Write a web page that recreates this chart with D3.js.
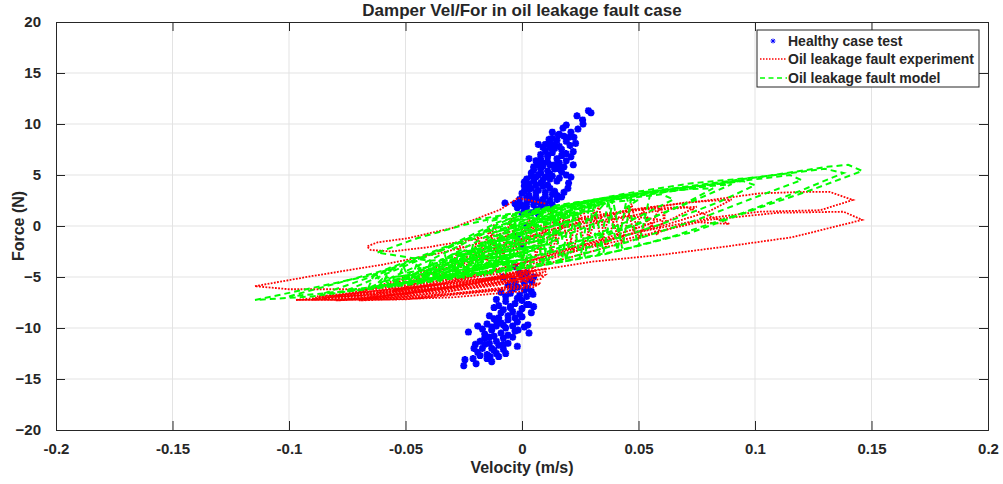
<!DOCTYPE html>
<html>
<head>
<meta charset="utf-8">
<script src="https://cdn.jsdelivr.net/npm/d3@7"></script>
<style>
  body { margin: 0; background: #fff; }
  text { font-family: "Liberation Sans", Arial, sans-serif; font-weight: bold; fill: #262626; }
</style>
</head>
<body>
<svg id="chart" width="1003" height="484"></svg>
<script>
// ---- data (velocity m/s, force N) ----
const xTicks = [-0.2, -0.15, -0.1, -0.05, 0, 0.05, 0.1, 0.15, 0.2];
const xTickLabels = ["-0.2", "-0.15", "-0.1", "-0.05", "0", "0.05", "0.1", "0.15", "0.2"];
const yTicks = [-20, -15, -10, -5, 0, 5, 10, 15, 20];
const legendLabels = ["Healthy case test", "Oil leakage fault experiment", "Oil leakage fault model"];

// healthy case: scatter of points
const healthyUpper = [
  [0.0285,11.3],[0.0296,11.1],[0.0236,10.8],[0.0262,10.0],[0.0176,9.6],[0.0155,8.9],[0.020,8.7],[0.0223,8.7],
  [0.0116,8.5],[0.0206,7.9],[0.009,7.7],[0.0189,7.1],[0.015,4.4],[0.0197,3.7],[0.017,2.85],[0.014,3.4],[-0.0073,2.25],
  [0.012,8.2],[0.014,8.0],[0.016,7.8],[0.010,7.4],[0.013,7.2],[0.017,7.5],[0.008,7.0],[0.011,6.8],[0.015,6.6],
  [0.006,6.4],[0.009,6.2],[0.012,6.0],[0.016,6.2],[0.005,5.8],[0.008,5.6],[0.011,5.4],[0.014,5.6],[0.004,5.2],
  [0.007,5.0],[0.010,4.8],[0.013,4.9],[0.002,4.6],[0.005,4.4],[0.008,4.2],[0.011,4.0],[0.001,3.9],[0.004,3.7],
  [0.007,3.5],[0.010,3.3],[0.0,3.2],[0.003,3.0],[0.006,2.8],[0.009,2.6],[0.012,2.5],[-0.001,2.6],[0.002,2.3],
  [0.005,2.1],[0.008,1.9],[0.011,1.8],[-0.002,1.8],[0.001,1.5],[0.004,1.3],[0.007,1.2],[0.018,5.8],[0.019,5.0],
  [0.020,4.2],[0.015,3.0],[0.021,6.8],[0.018,8.8],[0.013,9.2],[0.024,9.5],[0.022,6.0],[0.003,6.6],[0.007,8.0],
  [0.019,9.9],[0.017,5.3],[0.012,3.7],[0.006,4.8],[0.009,5.9],[0.002,1.9],[0.013,2.1],[-0.003,2.2],[0.016,4.7],
  [0.003,4.1],[0.006,3.3],[0.009,4.5],[0.012,5.1],[0.004,2.6],[0.007,2.4],[0.010,2.9],[0.013,3.1],[0.001,3.4],
  [0.0,2.0],[0.005,5.5],[0.008,6.6],[0.011,7.0],[0.014,7.6],[0.010,8.0],[0.013,8.6],[0.016,9.0],[0.019,8.3],
  [0.022,7.3],[0.017,6.9],[0.014,6.0],[0.011,6.3],[0.008,5.2],[0.006,4.0],[0.003,3.6],[0.012,4.6],[0.016,5.6],
  [0.009,3.9],[0.002,2.8],[-0.001,2.1],[0.006,1.6],[0.010,2.2],[0.015,2.6],[0.018,3.3],[0.021,4.8],[0.019,6.4],
  [0.023,8.1],[0.021,9.2],[0.026,10.4],[0.015,8.4],[0.012,7.7],[0.007,6.0],[0.004,4.9],[0.001,4.3],[0.0,1.2]
];
const healthyLower = [
  [0.0042,-5.5],[0.0047,-6.7],[0.0022,-6.1],[0.003,-7.7],[0.0025,-9.7],[-0.0017,-10.2],[-0.023,-10.4],[-0.019,-9.8],
  [-0.0245,-13.1],[-0.025,-13.7],[-0.0197,-13.5],[-0.0137,-12.8],[-0.0206,-12.0],[-0.019,-12.4],[0.0,-8.9],
  [-0.008,-5.0],[-0.004,-5.2],[0.0,-5.0],[0.002,-4.6],[-0.006,-5.8],[-0.002,-6.0],[0.001,-5.6],[-0.009,-6.5],
  [-0.005,-6.6],[-0.001,-6.8],[0.002,-6.9],[-0.011,-7.2],[-0.007,-7.4],[-0.003,-7.6],[0.0,-7.3],[-0.012,-8.0],
  [-0.008,-8.2],[-0.004,-8.4],[0.0,-8.1],[-0.014,-8.8],[-0.010,-9.0],[-0.006,-9.2],[-0.002,-9.4],[-0.015,-9.6],
  [-0.011,-9.8],[-0.007,-10.0],[-0.003,-10.3],[-0.016,-10.6],[-0.012,-10.8],[-0.008,-11.0],[-0.004,-10.9],
  [-0.018,-11.3],[-0.014,-11.5],[-0.010,-11.7],[-0.006,-11.5],[-0.017,-12.0],[-0.012,-12.2],[-0.008,-12.1],
  [-0.015,-12.6],[-0.010,-12.8],[0.004,-8.5],[0.003,-10.5],[-0.002,-11.8],[0.005,-7.9],[-0.013,-10.2],
  [-0.009,-9.5],[-0.005,-7.9],[-0.016,-11.0],[-0.003,-4.0],[0.0,-2.0],[0.002,0.0],[-0.002,-1.0],
  [-0.001,-4.6],[0.003,-5.2],[-0.003,-5.6],[0.001,-6.3],[-0.004,-6.2],[-0.007,-6.9],[-0.002,-7.1],[0.002,-7.7],
  [-0.005,-8.0],[-0.009,-8.5],[-0.001,-8.6],[-0.006,-8.8],[-0.011,-9.3],[-0.003,-9.0],[-0.008,-9.7],[-0.013,-9.9],
  [-0.004,-9.8],[-0.009,-10.5],[-0.014,-10.9],[-0.006,-10.7],[-0.011,-11.3],[-0.016,-11.6],[-0.008,-11.6],
  [-0.013,-12.0],[-0.018,-12.7],[-0.011,-12.5],[-0.015,-13.0],[-0.020,-11.6],[-0.021,-13.0],[0.001,-9.9],
  [0.004,-6.4],[0.005,-5.0],[-0.010,-7.8],[-0.012,-9.1],[-0.017,-10.1],[-0.007,-12.5],[-0.013,-13.3]
];

// oil leakage experiment: hysteresis loops (dotted red)
const expOuterA = [[-0.1146,-5.9],[-0.09,-4.9],[-0.06,-3.8],[-0.035,-2.65],[-0.01,-1.2],[0.02,0.4],[0.05,1.7],[0.081,2.55],
  [0.102,3.2],[0.122,3.35],[0.132,3.35],[0.142,2.55],[0.128,1.55],[0.102,1.4],[0.081,0.8],[0.05,-0.6],[0.02,-2.2],
  [-0.01,-3.8],[-0.04,-5.2],[-0.07,-6.2],[-0.1,-6.2],[-0.1146,-5.9]];
const expOuterB = [[-0.097,-7.25],[-0.07,-6.6],[-0.04,-5.6],[-0.01,-4.2],[0.02,-2.6],[0.05,-1.0],[0.08,0.6],[0.11,1.3],
  [0.138,1.4],[0.146,0.6],[0.116,-1.1],[0.088,-2.0],[0.059,-2.85],[0.03,-3.5],[0.005,-4.4],[-0.03,-5.9],[-0.06,-6.9],
  [-0.08,-7.25],[-0.097,-7.25]];
const expLeftLoop = [[0.01,2.2],[-0.0017,2.75],[-0.0094,1.6],[-0.03,-0.2],[-0.049,-1.2],[-0.062,-1.6],[-0.0665,-2.0],
  [-0.065,-2.35],[-0.056,-2.5],[-0.041,-2.1],[-0.02,-1.3],[0.0,-0.3],[0.03,1.0],[0.06,2.0]];
const expMid1 = [[-0.075,-6.9],[-0.05,-5.0],[-0.02,-2.8],[0.01,-0.5],[0.04,1.2],[0.07,2.3],[0.09,2.6],[0.08,1.4],[0.06,0.0],
  [0.03,-1.8],[0.0,-3.6],[-0.03,-5.3],[-0.06,-6.6],[-0.075,-6.9]];
const expMid2 = [[-0.065,-6.8],[-0.04,-4.8],[-0.015,-2.5],[0.015,-0.2],[0.045,1.5],[0.07,1.9],[0.089,0.2],[0.073,0.4],
  [0.05,-1.2],[0.025,-2.8],[0.0,-4.4],[-0.03,-5.9],[-0.065,-6.8]];
const expMid3 = [[-0.055,-6.4],[-0.03,-4.4],[-0.005,-2.0],[0.02,0.0],[0.045,1.0],[0.06,0.6],[0.04,-0.9],[0.015,-2.6],
  [-0.01,-4.3],[-0.035,-5.7],[-0.055,-6.4]];
const expMid4 = [[-0.085,-7.1],[-0.06,-5.9],[-0.03,-4.0],[0.0,-1.9],[0.03,0.2],[0.06,1.6],[0.075,1.9],[0.06,0.2],
  [0.035,-1.6],[0.01,-3.4],[-0.02,-5.0],[-0.05,-6.4],[-0.085,-7.1]];
// lower red band, traced back and forth
const expBand = [[-0.097,-7.25],[-0.05,-7.2],[0.005,-6.0],[0.008,-5.6],[-0.04,-6.9],[-0.09,-7.2],[-0.085,-7.0],
  [-0.04,-6.5],[0.008,-5.2],[0.01,-4.8],[-0.03,-6.0],[-0.08,-6.9],[-0.075,-6.7],[-0.03,-5.6],[0.01,-4.5],[0.01,-4.2],
  [-0.03,-5.2],[-0.07,-6.4],[-0.065,-6.1],[-0.03,-4.9],[0.005,-4.0],[0.0,-6.4],[-0.03,-7.0],[-0.07,-7.3],[-0.06,-7.1],
  [-0.02,-6.5],[0.006,-5.8],[0.004,-5.0],[-0.02,-5.9],[-0.06,-6.8]];
const expBand2 = [[-0.09,-7.2],[-0.05,-6.7],[0.0,-4.9],[-0.05,-6.1],[-0.088,-6.9],[-0.05,-6.4],[0.004,-4.6],[-0.04,-6.4],
  [-0.07,-7.15],[-0.03,-6.1],[0.006,-4.4],[-0.03,-5.6],[-0.062,-6.5],[-0.02,-5.5],[0.002,-4.3],[-0.025,-5.9],
  [-0.066,-7.0],[-0.035,-6.6],[0.008,-4.8],[-0.02,-5.2],[-0.055,-6.2],[-0.015,-5.7],[0.004,-5.1],[-0.01,-6.2],
  [-0.045,-7.0],[-0.08,-7.3],[-0.05,-6.9],[-0.01,-5.8],[0.009,-4.6]];
const expHatch = [[-0.018,-3.2],[-0.014,-0.4],[-0.01,-3.4],[-0.005,0.6],[-0.002,-2.6],[0.003,0.8],[0.006,-3.0],[0.01,0.5],
  [0.013,-2.6],[0.017,1.2],[0.02,-2.2],[0.024,0.9],[0.027,-1.8],[0.031,1.6],[0.034,-1.4],[0.038,1.3],[0.041,-1.0],
  [0.045,1.9],[0.048,-0.6],[0.052,1.6],[0.055,-0.2],[0.059,1.8],[0.062,0.4]];
const expHatch2 = [[-0.03,-3.8],[-0.026,-1.6],[-0.022,-4.0],[-0.019,-1.0],[-0.015,-3.6],[-0.012,0.2],[-0.008,-3.0],
  [-0.004,1.2],[0.0,-3.3],[0.004,0.3],[0.008,-2.4],[0.012,1.7],[0.015,-1.8],[0.019,1.5],[0.022,-2.6],[0.026,1.9],
  [0.029,-1.1],[0.033,2.0],[0.036,-2.2],[0.04,1.0],[0.043,-1.6],[0.047,2.2],[0.05,-1.2],[0.054,0.8],[0.058,-0.9],[0.062,1.5]];
const expLoops = [expOuterA, expOuterB, expLeftLoop, expMid1, expMid2, expMid3, expMid4, expBand, expBand2, expHatch, expHatch2];

// oil leakage model: hysteresis loops (dashed green)
const modelG1 = [[-0.1146,-7.25],[-0.107,-6.9],[-0.064,-4.8],[-0.03,-2.0],[-0.0064,0.6],[0.02,2.1],[0.045,3.2],[0.073,4.2],
  [0.102,4.8],[0.131,5.8],[0.14,6.0],[0.146,5.4],[0.125,3.6],[0.102,1.8],[0.073,-0.6],[0.042,-2.4],[0.01,-3.8],
  [-0.03,-5.0],[-0.065,-6.1],[-0.09,-6.9],[-0.1146,-7.25]];
const modelG2 = [[-0.1,-6.9],[-0.06,-4.4],[-0.03,-1.8],[-0.01,0.4],[0.015,2.0],[0.045,3.1],[0.075,4.0],[0.105,4.9],
  [0.13,5.6],[0.138,5.2],[0.12,3.5],[0.095,1.3],[0.065,-1.0],[0.035,-2.8],[0.0,-4.2],[-0.035,-5.3],[-0.07,-6.3],[-0.1,-6.9]];
const modelG3 = [[-0.085,-6.6],[-0.055,-4.2],[-0.025,-1.4],[0.0,0.9],[0.03,2.5],[0.06,3.5],[0.09,4.3],[0.115,5.0],
  [0.12,4.5],[0.1,2.8],[0.075,0.6],[0.045,-1.6],[0.015,-3.4],[-0.02,-4.8],[-0.05,-5.8],[-0.085,-6.6]];
const modelG4 = [[-0.075,-6.3],[-0.05,-3.9],[-0.02,-1.0],[0.005,1.3],[0.035,2.7],[0.065,3.6],[0.095,4.4],[0.1,4.0],
  [0.085,2.4],[0.06,0.2],[0.03,-2.0],[0.0,-3.8],[-0.03,-5.0],[-0.075,-6.3]];
const modelG5 = [[-0.065,-6.0],[-0.04,-3.4],[-0.015,-0.6],[0.01,1.6],[0.04,2.8],[0.07,3.6],[0.082,3.7],[0.07,2.2],
  [0.05,0.2],[0.025,-1.8],[-0.005,-3.7],[-0.035,-5.0],[-0.065,-6.0]];
const modelG6 = [[-0.055,-5.7],[-0.035,-3.4],[-0.01,-0.4],[0.015,1.7],[0.04,2.6],[0.06,3.1],[0.065,2.6],[0.05,0.9],
  [0.03,-1.0],[0.005,-3.0],[-0.025,-4.6],[-0.055,-5.7]];
const modelG7 = [[-0.045,-5.4],[-0.025,-2.9],[-0.005,-0.2],[0.02,1.8],[0.04,2.4],[0.05,2.6],[0.04,1.1],[0.02,-0.8],
  [0.0,-2.8],[-0.02,-4.3],[-0.045,-5.4]];
const modelG8 = [[-0.035,-5.0],[-0.02,-2.8],[0.0,-0.2],[0.02,1.5],[0.035,2.1],[0.03,0.8],[0.015,-1.0],[-0.005,-3.0],[-0.035,-5.0]];
const modelG9 = [[-0.025,-4.7],[-0.01,-2.2],[0.005,0.2],[0.02,1.4],[0.025,1.2],[0.015,-0.6],[0.0,-2.6],[-0.025,-4.7]];
const modelG10 = [[-0.062,-2.6],[-0.045,-1.2],[-0.025,0.1],[-0.005,1.1],[0.02,2.1],[0.05,3.0],[0.08,3.9],[0.09,4.1],
  [0.075,2.6],[0.05,0.3],[0.02,-1.8],[-0.01,-3.0],[-0.04,-3.4],[-0.062,-2.6]];
const modelCore = [[-0.062,-6.0],[-0.058,-5.0],[-0.052,-5.8],[-0.048,-4.6],[-0.042,-5.5],[-0.038,-4.0],[-0.032,-5.2],
  [-0.028,-3.4],[-0.022,-4.9],[-0.018,-2.4],[-0.013,-4.6],[-0.009,-1.0],[-0.005,-4.4],[-0.001,0.4],[0.003,-4.1],
  [0.007,1.2],[0.011,-3.8],[0.015,1.6],[0.019,-3.4],[0.023,2.0],[0.027,-3.0],[0.031,2.3],[0.035,-2.6],[0.039,2.6],
  [0.043,-2.2],[0.047,2.9]];
const modelCore2 = [[-0.065,-6.2],[-0.06,-5.2],[-0.055,-6.0],[-0.05,-4.9],[-0.045,-5.7],[-0.04,-4.3],[-0.035,-5.4],
  [-0.03,-3.7],[-0.025,-5.1],[-0.02,-2.9],[-0.016,-4.8],[-0.011,-1.8],[-0.007,-4.5],[-0.003,-0.4],[0.001,-4.2],
  [0.005,0.9],[0.009,-3.9],[0.013,1.4],[0.017,-3.6],[0.021,1.9],[0.025,-3.2],[0.029,2.2],[0.033,-2.8],[0.037,2.5],
  [0.041,-2.4],[0.045,2.8],[0.05,-2.0],[0.055,3.1]];
const modelCore3 = [[-0.06,-5.9],[-0.02,-4.6],[-0.06,-5.4],[-0.01,-3.9],[-0.055,-5.0],[0.0,-3.3],[-0.05,-4.6],[0.0,-2.6],
  [-0.045,-4.2],[0.005,-2.0],[-0.04,-3.8],[0.01,-1.3],[-0.035,-3.3],[0.015,-0.5],[-0.03,-2.8],[0.02,0.4],[-0.02,-2.0],
  [0.025,1.2],[-0.015,-1.2],[0.03,1.8],[-0.01,-0.4],[0.035,2.4]];
const modelCore4 = [[-0.066,-6.1],[-0.063,-4.5],[-0.06,-5.9],[-0.057,-4.2],[-0.054,-5.7],[-0.051,-3.9],[-0.048,-5.5],
  [-0.045,-3.6],[-0.042,-5.3],[-0.039,-3.3],[-0.036,-5.1],[-0.033,-2.9],[-0.03,-4.9],[-0.027,-2.4],[-0.024,-4.8],
  [-0.021,-1.8],[-0.018,-4.6],[-0.015,-1.0],[-0.012,-4.5],[-0.009,-0.2],[-0.006,-4.4],[-0.003,0.6],[0.0,-4.3],[0.003,1.2]];
const modelCore5 = [[-0.058,-5.8],[-0.015,-4.5],[-0.05,-5.1],[-0.005,-3.6],[-0.042,-4.4],[0.004,-2.8],[-0.034,-3.6],
  [0.012,-1.8],[-0.026,-2.8],[0.018,-0.6],[-0.018,-1.7],[0.024,0.6],[-0.012,-0.6],[0.03,1.5],[-0.006,0.4],[0.036,2.2],
  [0.0,1.0],[0.042,2.7]];
const modelEdge = [[-0.02,0.6],[0.0,1.4],[0.02,2.2],[0.045,3.0],[0.07,3.8],[0.095,4.5],[0.07,3.6],[0.045,2.8],[0.02,2.0],
  [0.0,1.2],[-0.015,0.4]];
const modelLoops = [modelG1, modelG2, modelG3, modelG4, modelG5, modelG6, modelG7, modelG8, modelG9, modelG10,
  modelCore, modelCore2, modelCore3, modelCore4, modelCore5, modelEdge];

// ---- layout ----
const W = 1003, H = 484;
const margin = { top: 22, right: 15, bottom: 54, left: 56 };
const width = W - margin.left - margin.right;
const height = H - margin.top - margin.bottom;
const axisColor = "#262626";

const svg = d3.select("#chart");
svg.append("rect").attr("width", W).attr("height", H).attr("fill", "#fff");

const g = svg.append("g").attr("transform", `translate(${margin.left},${margin.top})`);

const x = d3.scaleLinear().domain([-0.2, 0.2]).range([0, width]);
const y = d3.scaleLinear().domain([-20, 20]).range([height, 0]);

// grid
g.append("g").selectAll("line").data(xTicks.slice(1, -1)).enter().append("line")
  .attr("x1", d => x(d)).attr("x2", d => x(d)).attr("y1", 0).attr("y2", height)
  .attr("stroke", "#e3e3e3").attr("stroke-width", 1);
g.append("g").selectAll("line").data(yTicks.slice(1, -1)).enter().append("line")
  .attr("y1", d => y(d)).attr("y2", d => y(d)).attr("x1", 0).attr("x2", width)
  .attr("stroke", "#e3e3e3").attr("stroke-width", 1);

// clip
svg.append("defs").append("clipPath").attr("id", "plotclip")
  .append("rect").attr("width", width).attr("height", height);
const plot = g.append("g").attr("clip-path", "url(#plotclip)");

// healthy points, drawn as '*' markers
const star = "M-3.5,0L3.5,0M0,-3.5L0,3.5M-2.6,-2.6L2.6,2.6M-2.6,2.6L2.6,-2.6";
plot.append("g").selectAll("path").data(healthyUpper.concat(healthyLower)).enter().append("path")
  .attr("transform", d => `translate(${x(d[0])},${y(d[1])})`)
  .attr("d", star)
  .attr("fill", "none").attr("stroke", "#0000ff").attr("stroke-width", 2.2);

const line = d3.line().x(d => x(d[0])).y(d => y(d[1]));

plot.append("g").selectAll("path").data(expLoops).enter().append("path")
  .attr("d", line)
  .attr("fill", "none").attr("stroke", "#ff0000").attr("stroke-width", 1.8)
  .attr("stroke-dasharray", "1.8,1.4");

plot.append("g").selectAll("path").data(modelLoops).enter().append("path")
  .attr("d", line)
  .attr("fill", "none").attr("stroke", "#00ff00").attr("stroke-width", 2)
  .attr("stroke-dasharray", "6,4");

// axes with inward ticks on all four sides
const tickLen = 9;
const xAxis = g.append("g").attr("transform", `translate(0,${height})`)
  .call(d3.axisBottom(x).tickValues(xTicks).tickFormat((d, i) => xTickLabels[i]).tickSize(-tickLen).tickPadding(13));
const xAxisTop = g.append("g")
  .call(d3.axisTop(x).tickValues(xTicks).tickFormat("").tickSize(-tickLen));
const yAxis = g.append("g")
  .call(d3.axisLeft(y).tickValues(yTicks).tickSize(-tickLen).tickPadding(15));
const yAxisRight = g.append("g").attr("transform", `translate(${width},0)`)
  .call(d3.axisRight(y).tickValues(yTicks).tickFormat("").tickSize(-tickLen));

[xAxis, xAxisTop, yAxis, yAxisRight].forEach(a => {
  a.select(".domain").attr("stroke", axisColor).attr("stroke-width", 1);
  a.selectAll(".tick line").attr("stroke", axisColor).attr("stroke-width", 1);
  a.selectAll("text").attr("font-size", 15).attr("font-family", '"Liberation Sans", Arial, sans-serif')
    .attr("font-weight", "bold").attr("fill", axisColor);
});

// labels
svg.append("text").attr("x", margin.left + width / 2).attr("y", 16)
  .attr("text-anchor", "middle").attr("font-size", 17).text("Damper Vel/For in oil leakage fault case");
svg.append("text").attr("x", margin.left + width / 2).attr("y", 473)
  .attr("text-anchor", "middle").attr("font-size", 16).text("Velocity (m/s)");
svg.append("text").attr("transform", `translate(24,${margin.top + height / 2}) rotate(-90)`)
  .attr("text-anchor", "middle").attr("font-size", 16).text("Force (N)");

// legend
const lg = svg.append("g").attr("transform", "translate(757,30)");
lg.append("rect").attr("width", 222).attr("height", 57)
  .attr("fill", "#fff").attr("stroke", axisColor).attr("stroke-width", 1);
const rowY = [11, 29, 48];
lg.append("path").attr("d", star)
  .attr("fill", "none").attr("stroke", "#0000ff").attr("stroke-width", 1.4)
  .attr("transform", `translate(16,${rowY[0]}) scale(0.7)`);
lg.append("line").attr("x1", 3).attr("x2", 30).attr("y1", rowY[1]).attr("y2", rowY[1])
  .attr("stroke", "#ff0000").attr("stroke-width", 1.5).attr("stroke-dasharray", "1.5,1.5");
lg.append("line").attr("x1", 3).attr("x2", 30).attr("y1", rowY[2]).attr("y2", rowY[2])
  .attr("stroke", "#00ff00").attr("stroke-width", 1.5).attr("stroke-dasharray", "5,3.5");
lg.selectAll("text.lbl").data(legendLabels).enter().append("text").attr("class", "lbl")
  .attr("x", 31).attr("y", (d, i) => rowY[i] + 5).attr("font-size", 14).text(d => d);
</script>
</body>
</html>
